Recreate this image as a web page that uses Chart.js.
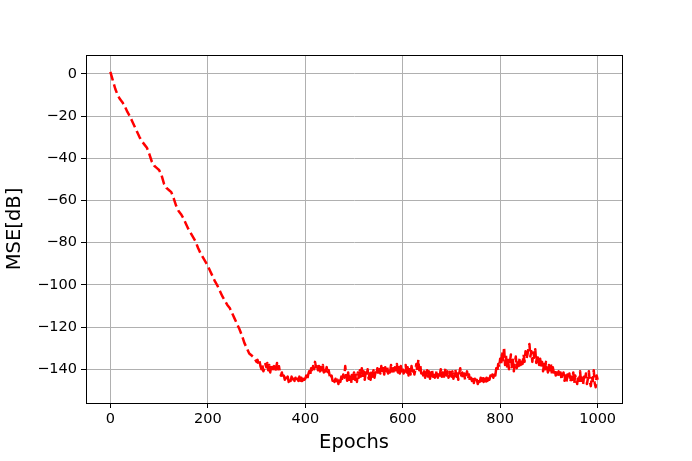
<!DOCTYPE html>
<html>
<head>
<meta charset="utf-8">
<script src="https://cdn.jsdelivr.net/npm/chart.js@4/dist/chart.umd.min.js"></script>
<style>
  body { margin: 0; background: #fff; }
  #wrap { width: 692px; height: 461px; }
</style>
</head>
<body>
<div id="wrap"><canvas id="mseChart" width="692" height="461"></canvas></div>
<script>
// epochs: every 5 on the descent, every 2 on the noisy plateau
const epochs = [];
for (let e = 0; e <= 300; e += 5) epochs.push(e);
for (let e = 302; e <= 1000; e += 2) epochs.push(e);

// MSE in dB, epochs 0..300 step 5
const mseDescent = [
  1, -3, -7, -10, -12, -13.5, -15.5, -18, -20, -22.5,
  -25, -27.5, -30, -32, -33.5, -35, -38, -41.5, -43.5, -44.5,
  -45.5, -48, -52, -54, -55, -56, -59, -62.5, -65, -66.5,
  -68.5, -71, -73.5, -75.5, -77.5, -79.5, -82.5, -85, -87, -89,
  -91, -93.5, -96, -98.5, -100.5, -103, -105.5, -107.5, -109.5, -111,
  -113.5, -116, -118.5, -121, -124, -127.5, -130, -132.5, -133.5, -134.5,
  -136.5
];

// MSE in dB, epochs 302..1000 step 2
const msePlateau = [
  -135.5, -137.5, -136, -138.5, -140, -138, -141, -139.5, -137.5, -139,
  -137, -140.5, -138, -141.5, -139, -137.5, -140, -138.5, -141, -139.5,
  -137, -140, -138.5, -141.5, -143, -141.5, -144.5, -143, -145, -144,
  -145.5, -143.5, -146, -144.5, -145.5, -143.5, -146, -144.5, -145.5, -144,
  -146, -144.5, -145.5, -143.5, -146, -144, -145.5, -143.5, -145, -144.5,
  -143, -145, -142.5, -141, -143, -139.5, -141.5, -138.5, -140, -136.5,
  -139, -137.5, -140.5, -138.5, -141, -139, -140.5, -138, -141.5, -139.5,
  -141, -139, -142, -140.5, -143, -144.5, -143, -145.5, -144, -146,
  -144.5, -146.5, -145, -147, -144.5, -146, -143.5, -145.5, -142.5, -144,
  -138.5, -143, -145.5, -141.5, -146, -143.5, -147, -142, -144.5, -141.5,
  -145, -142, -146, -141.5, -144, -140.5, -143.5, -139.5, -144, -141,
  -145, -141.5, -143, -140, -144.5, -142, -145, -141, -143.5, -140.5,
  -144, -141.5, -142.5, -139.5, -143, -140, -142, -138.5, -141.5, -139.5,
  -142.5, -139, -141, -138.5, -142, -140, -141.5, -138, -141, -139.5,
  -142, -139, -140.5, -137.5, -141.5, -139, -142, -138.5, -141, -139,
  -142, -140.5, -138, -141.5, -139, -143, -140, -142.5, -138.5, -141,
  -139.5, -142.5, -140, -137.5, -141, -135.5, -140.5, -138, -142, -140.5,
  -143, -141, -144, -142, -140.5, -143.5, -141, -144.5, -142, -140,
  -143.5, -141.5, -144, -142.5, -140.5, -144, -141.5, -143, -140, -143.5,
  -141.5, -144.5, -142, -139.5, -143, -141, -144, -142.5, -140.5, -143.5,
  -141, -144.5, -142.5, -140, -143.5, -141, -145, -142, -139.5, -143,
  -141.5, -144.5, -142, -145, -143, -141, -144.5, -142.5, -146, -144,
  -145.5, -143.5, -146.5, -144.5, -146, -145, -147, -144.5, -146, -144,
  -145.5, -143.5, -146, -144.5, -146.5, -144, -145.5, -143.5, -145, -143,
  -144.5, -142.5, -144, -141.5, -143, -139.5, -141, -137.5, -139, -135,
  -138, -131.5, -136.5, -129.5, -138, -133.5, -139.5, -135, -140, -136.5,
  -133, -139, -135.5, -141, -137, -134, -139.5, -136, -138.5, -134.5,
  -138, -135, -137.5, -133, -136.5, -131.5, -135, -133, -130, -128,
  -134, -131.5, -136.5, -132, -134.5, -130.5, -137, -133, -135.5, -138,
  -135, -139.5, -136.5, -141, -137.5, -140, -136.5, -139, -141.5, -138,
  -140.5, -137.5, -142, -139, -141.5, -140, -143, -140.5, -142.5, -141,
  -144, -141.5, -145, -143, -141.5, -145.5, -143, -146, -142.5, -144.5,
  -142, -146, -143.5, -145, -141.5, -146.5, -143, -144.5, -147, -143,
  -145.5, -141, -146.5, -144, -147.5, -143.5, -145, -142, -147, -144.5,
  -141, -146, -148, -143.5, -145.5, -140.5, -146.5, -148.5, -143, -145
];

const mseDb = mseDescent.concat(msePlateau);

const xTicks = [0, 200, 400, 600, 800, 1000];
const yTicks = [0, -20, -40, -60, -80, -100, -120, -140];

const tickFont = { family: 'DejaVu Sans', size: 14.5 };
const titleFont = { family: 'DejaVu Sans', size: 19.5 };

// matplotlib draws a frame on all four sides
const frame = {
  id: 'frame',
  afterDraw(chart) {
    const { ctx, chartArea: a } = chart;
    ctx.save();
    ctx.strokeStyle = '#000';
    ctx.lineWidth = 1;
    ctx.strokeRect(Math.round(a.left) + 0.5, Math.round(a.top) + 0.5,
      Math.round(a.right - a.left), Math.round(a.bottom - a.top));
    ctx.restore();
  }
};

const minus = v => String(v).replace('-', '\u2212');

new Chart(document.getElementById('mseChart').getContext('2d'), {
  type: 'line',
  data: {
    labels: epochs,
    datasets: [{
      data: mseDb,
      borderColor: '#ff0000',
      borderWidth: 2.5,
      borderDash: [9, 4],
      borderJoinStyle: 'round',
      pointRadius: 0,
      tension: 0,
      fill: false
    }]
  },
  options: {
    responsive: false,
    animation: false,
    layout: { padding: { top: 55, right: 70, left: 0, bottom: 0 } },
    plugins: { legend: { display: false }, tooltip: { enabled: false } },
    scales: {
      x: {
        type: 'linear',
        min: -50,
        max: 1050,
        afterBuildTicks: axis => { axis.ticks = xTicks.map(v => ({ value: v })); },
        afterFit: scale => { scale.height = 58; },
        ticks: { color: '#000', font: tickFont, padding: 3, maxRotation: 0, callback: minus },
        grid: { color: '#b0b0b0', lineWidth: 1, tickLength: 5, tickColor: '#000' },
        border: { color: '#000' },
        title: { display: true, text: 'Epochs', color: '#000', font: titleFont, padding: { top: 0, bottom: 6 } }
      },
      y: {
        min: -156,
        max: 9,
        afterBuildTicks: axis => { axis.ticks = yTicks.map(v => ({ value: v })); },
        afterFit: scale => { scale.width = 86; },
        ticks: { color: '#000', font: tickFont, padding: 4, callback: minus },
        grid: { color: '#b0b0b0', lineWidth: 1, tickLength: 5, tickColor: '#000' },
        border: { color: '#000' },
        title: { display: true, text: 'MSE[dB]', color: '#000', font: titleFont, padding: { top: 3, bottom: 0 } }
      }
    }
  },
  plugins: [frame]
});
</script>
</body>
</html>
